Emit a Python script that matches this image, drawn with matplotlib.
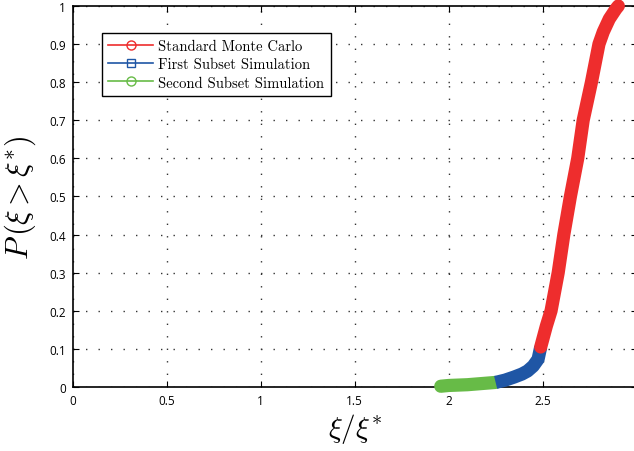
import matplotlib
matplotlib.use('Agg')
import matplotlib.pyplot as plt
from matplotlib.lines import Line2D

plt.rcParams['mathtext.fontset'] = 'cm'

# curves (x = xi/xi*, y = P(xi > xi*))
mc_x = [2.49, 2.52, 2.545, 2.583, 2.613, 2.648, 2.687, 2.716, 2.76, 2.80, 2.823, 2.855, 2.89, 2.903]
mc_y = [0.105, 0.16, 0.20, 0.30, 0.40, 0.50, 0.60, 0.70, 0.80, 0.90, 0.932, 0.966, 0.992, 1.0]

ss1_x = [2.25, 2.30, 2.348, 2.39, 2.42, 2.45, 2.476, 2.49]
ss1_y = [0.012, 0.018, 0.026, 0.034, 0.042, 0.055, 0.073, 0.105]

ss2_x = [1.958, 2.00, 2.05, 2.10, 2.15, 2.20, 2.25]
ss2_y = [0.002, 0.004, 0.005, 0.006, 0.008, 0.010, 0.012]

red = '#ee2d2d'
blue = '#1f56a5'
green = '#67bb47'

fig = plt.figure(figsize=(6.34, 4.52), dpi=100)
ax = fig.add_axes([0.115, 0.1416, 0.889, 0.843])

lw = 9.5
ax.plot(ss2_x, ss2_y, color=green, lw=lw, solid_capstyle='round', solid_joinstyle='round',
        zorder=3, clip_on=False)
ax.plot(ss1_x, ss1_y, color=blue, lw=lw, solid_capstyle='butt', solid_joinstyle='round',
        zorder=3, clip_on=False)
ax.plot(mc_x, mc_y, color=red, lw=lw, solid_capstyle='round', solid_joinstyle='round',
        zorder=4, clip_on=False)

ax.set_xlim(0, 3)
ax.set_ylim(0, 1)
ax.set_xticks([0, 0.5, 1, 1.5, 2, 2.5, 3])
# the "3" label falls outside the picture in the original
ax.set_xticklabels(['0', '0.5', '1', '1.5', '2', '2.5', ''])
ax.set_yticks([i / 10 for i in range(11)])
ax.set_yticklabels(['0', '0.1', '0.2', '0.3', '0.4', '0.5', '0.6', '0.7', '0.8', '0.9', '1'])
ax.tick_params(direction='in', length=4, width=0.8, top=True, right=True, labelsize=8.5, pad=5)
for lab in ax.get_xticklabels() + ax.get_yticklabels():
    lab.set_family('Open Sans')
for s in ax.spines.values():
    s.set_linewidth(1.2)

ax.grid(True, color='#333333', linestyle=(0, (1, 8)), linewidth=1.0)

ax.set_xlabel(r'$\xi/\xi^{*}$', fontsize=21, labelpad=3)
ax.set_ylabel(r'$P\,(\xi > \xi^{*})$', fontsize=22, labelpad=8)

handles = [
    Line2D([], [], color=red, marker='o', mfc='none', ms=6.5, lw=1.2),
    Line2D([], [], color=blue, marker='s', mfc='none', ms=5.5, lw=1.2),
    Line2D([], [], color=green, marker='o', mfc='none', ms=6.5, lw=1.2),
]
names = ['Standard Monte Carlo', 'First Subset Simulation', 'Second Subset Simulation']
leg = ax.legend(handles, names, loc='upper left', bbox_to_anchor=(0.038, 0.948),
                prop={'family': 'cmr10', 'size': 10.5}, fancybox=False, framealpha=1,
                edgecolor='black', handlelength=3.1, handletextpad=0.35, borderpad=0.45,
                labelspacing=0.3)
leg.get_frame().set_linewidth(1.0)

fig.savefig('out.png', dpi=100)
